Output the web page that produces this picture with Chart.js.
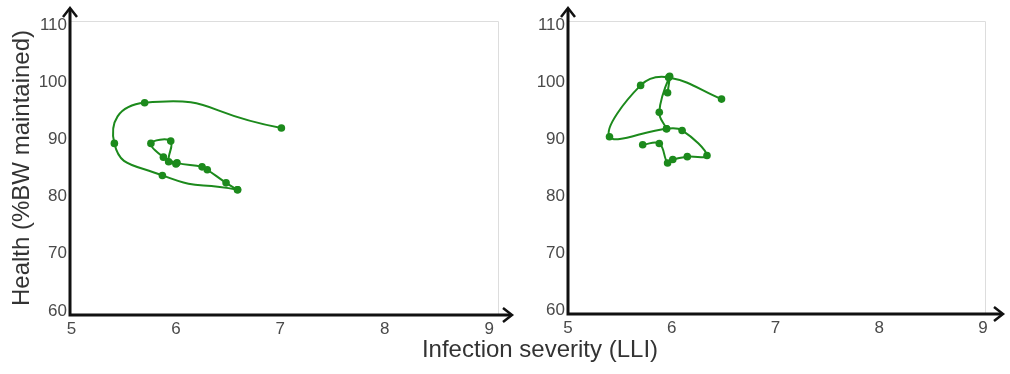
<!DOCTYPE html>
<html>
<head>
<meta charset="utf-8">
<script src="https://cdn.jsdelivr.net/npm/chart.js@4.4.0/dist/chart.umd.min.js"></script>
<style>
  html, body { margin: 0; padding: 0; background: #fff; }
  #wrap { position: relative; width: 1010px; height: 374px; overflow: hidden; }
  #leftBox { position: absolute; left: 0; top: 0; width: 520px; height: 374px; }
  #rightBox { position: absolute; left: 500px; top: 0; width: 510px; height: 374px; }
  #xTitle { position: absolute; left: 290px; width: 500px; top: 335px; text-align: center;
            font: 24px "Liberation Sans", Arial, sans-serif; color: #333; }
</style>
</head>
<body>
<div id="wrap">
  <div id="leftBox"><canvas id="leftChart"></canvas></div>
  <div id="rightBox"><canvas id="rightChart"></canvas></div>
  <div id="xTitle">Infection severity (LLI)</div>
</div>

<script>
// === DATA ===
let xTicks = [5, 6, 7, 8, 9];
let yTicks = [60, 70, 80, 90, 100, 110];

// left panel: big loop, then the small knot (shares the point 6.59 / 81.2)
let leftLoopX = [7.01, 5.70, 5.41, 5.87, 6.59];
let leftLoopY = [92.0, 96.4, 89.3, 83.7, 81.2];
let leftKnotX = [6.59, 6.48, 6.30, 6.25, 6.01, 5.88, 5.76, 5.95, 5.93, 6.00];
let leftKnotY = [81.2, 82.4, 84.7, 85.2, 85.9, 86.9, 89.3, 89.7, 86.1, 85.7];

// right panel, main path + short branch
let rightX = [5.72, 5.88, 5.96, 6.01, 6.15, 6.34, 6.10, 5.95, 5.40, 5.70, 5.97, 6.48];
let rightY = [89.0, 89.2, 85.8, 86.4, 86.9, 87.1, 91.5, 91.8, 90.4, 99.4, 100.8, 97.0];
let branchX = [5.95, 5.88, 5.98, 5.96];
let branchY = [91.8, 94.7, 101.0, 98.1];

const green = "#1c8a1c";
const fontFam = "'Liberation Sans', Arial, sans-serif";
const tickFont = { family: fontFam, size: 17 };

// === AXES WITH ARROWS ===
const axisArrows = {
  id: "axisArrows",
  beforeDatasetsDraw(chart) {
    const { ctx, chartArea: a } = chart;
    ctx.save();
    ctx.strokeStyle = "#dddddd";
    ctx.lineWidth = 1;
    ctx.beginPath();
    ctx.moveTo(a.left, a.top + 0.5);
    ctx.lineTo(a.right + 0.5, a.top + 0.5);
    ctx.lineTo(a.right + 0.5, a.bottom);
    ctx.stroke();
    ctx.restore();
  },
  afterDraw(chart, args, opts) {
    const { ctx, chartArea: a } = chart;
    const xEnd = a.right + opts.xExtra;
    const yEnd = a.top - 13;
    ctx.save();
    ctx.strokeStyle = "#111";
    ctx.lineWidth = 3;
    ctx.beginPath();
    ctx.moveTo(a.left - 1.5, a.bottom);
    ctx.lineTo(xEnd - 1, a.bottom);
    ctx.moveTo(a.left, a.bottom + 1.5);
    ctx.lineTo(a.left, yEnd + 1);
    ctx.stroke();
    // heads
    ctx.lineWidth = 2.5;
    ctx.beginPath();
    ctx.moveTo(xEnd - 9, a.bottom - 7);
    ctx.lineTo(xEnd, a.bottom);
    ctx.lineTo(xEnd - 9, a.bottom + 7);
    ctx.stroke();
    ctx.beginPath();
    ctx.moveTo(a.left - 7, yEnd + 9);
    ctx.lineTo(a.left, yEnd);
    ctx.lineTo(a.left + 7, yEnd + 9);
    ctx.stroke();
    ctx.restore();
  }
};

function toPoints(xs, ys) {
  return xs.map((x, i) => ({ x: x, y: ys[i] }));
}

function lineSet(xs, ys, tension) {
  return {
    data: toPoints(xs, ys),
    showLine: true,
    tension: tension,
    borderColor: green,
    borderWidth: 2,
    backgroundColor: green,
    pointRadius: 3.8,
    pointBorderWidth: 0
  };
}

function makeChart(id, datasets, cfg) {
  return new Chart(document.getElementById(id), {
    type: "scatter",
    data: { datasets: datasets },
    plugins: [axisArrows],
    options: {
      responsive: true,
      maintainAspectRatio: false,
      animation: false,
      layout: { padding: cfg.padding },
      plugins: {
        legend: { display: false },
        tooltip: { enabled: false },
        axisArrows: { xExtra: cfg.xExtra }
      },
      scales: {
        x: {
          type: "linear",
          min: cfg.xMin,
          max: cfg.xMax,
          grid: { display: false, drawTicks: false },
          border: { display: false },
          ticks: { font: tickFont, color: "#4a4a4a", padding: 4, maxRotation: 0 },
          afterBuildTicks: s => { s.ticks = xTicks.map(v => ({ value: v })); },
          afterFit: s => { s.height = cfg.xHeight; }
        },
        y: {
          type: "linear",
          min: 59.3,
          max: 110.7,
          grid: { display: false, drawTicks: false },
          border: { display: false },
          ticks: { font: tickFont, color: "#4a4a4a", padding: 3 },
          afterBuildTicks: s => { s.ticks = yTicks.map(v => ({ value: v })); },
          afterFit: s => { s.width = cfg.yWidth; },
          title: {
            display: cfg.yTitle !== "",
            text: cfg.yTitle,
            color: "#333",
            font: { family: fontFam, size: 24 },
            padding: { top: 8, bottom: 0 }
          }
        }
      }
    }
  });
}

makeChart("leftChart", [lineSet(leftLoopX, leftLoopY, 0.6), lineSet(leftKnotX, leftKnotY, 0.4)], {
  padding: { left: 0, top: 21, right: 22, bottom: 0 },
  xMin: 4.985, xMax: 9.085, xHeight: 59, yWidth: 70, xExtra: 14,
  yTitle: "Health (%BW maintained)"
});

makeChart("rightChart", [lineSet(rightX, rightY, 0.4), lineSet(branchX, branchY, 0.4)], {
  padding: { left: 0, top: 21, right: 25, bottom: 0 },
  xMin: 5.0, xMax: 9.02, xHeight: 60, yWidth: 68, xExtra: 18,
  yTitle: ""
});
</script>
</body>
</html>
